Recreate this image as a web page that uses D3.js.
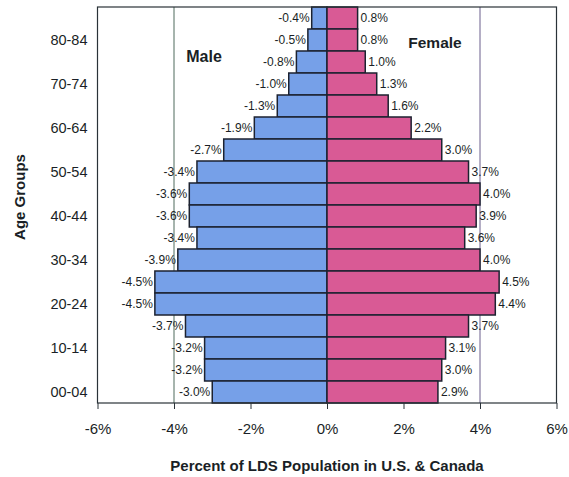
<!DOCTYPE html>
<html>
<head>
<meta charset="utf-8">
<script src="https://cdn.jsdelivr.net/npm/d3@7"></script>
<style>
  body { margin: 0; background: #fff; }
  text { font-family: Arial, "Liberation Sans", sans-serif; fill: #1a1f26; }
</style>
</head>
<body>
<div id="chart"></div>
<script>
// age groups, top to bottom
var ageGroups = ["85+", "80-84", "75-79", "70-74", "65-69", "60-64", "55-59", "50-54", "45-49",
  "40-44", "35-39", "30-34", "25-29", "20-24", "15-19", "10-14", "05-09", "00-04"];
var maleValues = [-0.4, -0.5, -0.8, -1.0, -1.3, -1.9, -2.7, -3.4, -3.6, -3.6, -3.4, -3.9, -4.5, -4.5, -3.7, -3.2, -3.2, -3.0];
var femaleValues = [0.8, 0.8, 1.0, 1.3, 1.6, 2.2, 3.0, 3.7, 4.0, 3.9, 3.6, 4.0, 4.5, 4.4, 3.7, 3.1, 3.0, 2.9];
var yTickLabels = ["80-84", "70-74", "60-64", "50-54", "40-44", "30-34", "20-24", "10-14", "00-04"];
var xTicks = [-6, -4, -2, 0, 2, 4, 6];
var gridLines = [-4, 4];

var W = 569, H = 477;
var m = {top: 7, right: 12, bottom: 74, left: 97.5};

var svg = d3.select("#chart").append("svg").attr("width", W).attr("height", H);

var x = d3.scaleLinear().domain([-6, 6]).range([m.left, W - m.right - 0.5]);
var y = d3.scaleBand().domain(ageGroups).range([m.top, H - m.bottom]).padding(0);

// grid lines
svg.selectAll("line.grid").data(gridLines).enter().append("line")
  .attr("class", "grid")
  .attr("x1", function (d) { return x(d); }).attr("x2", function (d) { return x(d); })
  .attr("y1", m.top).attr("y2", H - m.bottom)
  .attr("stroke", function (d) { return d < 0 ? "#4f6a5c" : "#6a5f8c"; })
  .attr("stroke-width", 1);

// bars
function drawBars(vals, color) {
  svg.append("g").selectAll("rect").data(vals).enter().append("rect")
    .attr("x", function (d) { return x(Math.min(0, d)); })
    .attr("y", function (d, i) { return y(ageGroups[i]); })
    .attr("width", function (d) { return Math.abs(x(d) - x(0)); })
    .attr("height", y.bandwidth())
    .attr("fill", color)
    .attr("stroke", "#1c2230")
    .attr("stroke-width", 1.5);
}
drawBars(maleValues, "#76a0e8");
drawBars(femaleValues, "#d95a95");

// value labels
svg.append("g").selectAll("text").data(maleValues).enter().append("text")
  .attr("x", function (d) { return x(d) - 2; })
  .attr("y", function (d, i) { return y(ageGroups[i]) + y.bandwidth() / 2; })
  .attr("dy", "0.35em").attr("text-anchor", "end")
  .style("font-size", "12px")
  .text(function (d) { return d.toFixed(1) + "%"; });

svg.append("g").selectAll("text").data(femaleValues).enter().append("text")
  .attr("x", function (d) { return x(d) + 3; })
  .attr("y", function (d, i) { return y(ageGroups[i]) + y.bandwidth() / 2; })
  .attr("dy", "0.35em").attr("text-anchor", "start")
  .style("font-size", "12px")
  .text(function (d) { return d.toFixed(1) + "%"; });

// frame
svg.append("rect")
  .attr("x", x(-6)).attr("y", m.top)
  .attr("width", x(6) - x(-6)).attr("height", H - m.bottom - m.top)
  .attr("fill", "none").attr("stroke", "#2a3238").attr("stroke-width", 1.2);

// x axis
var xAxis = d3.axisBottom(x).tickValues(xTicks).tickSize(6).tickPadding(14)
  .tickFormat(function (d) { return d + "%"; });
var gx = svg.append("g").attr("transform", "translate(0," + (H - m.bottom) + ")").call(xAxis);
gx.select(".domain").remove();
gx.selectAll(".tick line").attr("stroke", "#2a3238");
gx.selectAll("text").style("font-size", "15px").attr("fill", "#1a1f26");

// y axis
var yAxis = d3.axisLeft(y).tickValues(yTickLabels).tickSize(0).tickPadding(10);
var gy = svg.append("g").attr("transform", "translate(" + x(-6) + ",0)").call(yAxis);
gy.select(".domain").remove();
gy.selectAll("text").style("font-size", "14.5px").attr("fill", "#1a1f26");

// series labels
svg.append("text").attr("x", 204).attr("y", 62).attr("text-anchor", "middle")
  .style("font-size", "16px").style("font-weight", "bold").text("Male");
svg.append("text").attr("x", 435).attr("y", 48).attr("text-anchor", "middle")
  .style("font-size", "15.5px").style("font-weight", "bold").text("Female");

// axis titles
svg.append("text").attr("x", x(0)).attr("y", 471).attr("text-anchor", "middle")
  .style("font-size", "15px").style("font-weight", "bold")
  .text("Percent of LDS Population in U.S. & Canada");
svg.append("text").attr("transform", "translate(25,197) rotate(-90)").attr("text-anchor", "middle")
  .style("font-size", "15px").style("font-weight", "bold").text("Age Groups");
</script>
</body>
</html>
